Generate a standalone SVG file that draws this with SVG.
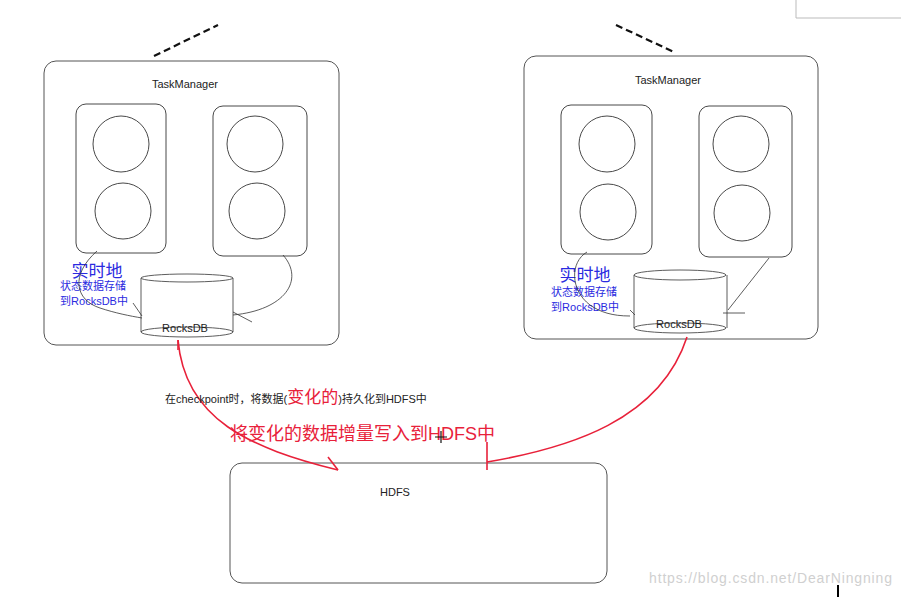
<svg xmlns="http://www.w3.org/2000/svg" width="901" height="597" viewBox="0 0 901 597">
<style>
.box{fill:none;stroke:#555;stroke-width:1}
.inner{fill:none;stroke:#333;stroke-width:0.9}
.circ{fill:none;stroke:#333;stroke-width:0.9}
.thin{fill:none;stroke:#333;stroke-width:0.8}
.dash{fill:none;stroke:#111;stroke-width:2.2;stroke-dasharray:7,4}
.red{fill:none;stroke:#e8213a;stroke-width:1.6}
.t{font-family:"Liberation Sans",Arial,"Noto Sans CJK SC",sans-serif;fill:#222}
.blue{font-family:"Liberation Sans",Arial,"Noto Sans CJK SC",sans-serif;fill:#2a2ae0}
.redt{font-family:"Liberation Sans",Arial,"Noto Sans CJK SC",sans-serif;fill:#e8213a}
</style>
<rect x="0" y="0" width="901" height="597" fill="#fff"/>
<path d="M796,-1 V18 H901" fill="none" stroke="#bbb" stroke-width="1"/>
<g id="tm-left">
<line class="dash" x1="154" y1="56" x2="218" y2="25"/>
<rect class="box" x="44" y="61" width="295" height="284" rx="12"/>
<text class="t" x="185" y="88" font-size="11" text-anchor="middle">TaskManager</text>
<rect class="inner" x="76" y="104" width="90" height="149" rx="10"/>
<circle class="circ" cx="121" cy="144" r="28"/>
<circle class="circ" cx="123" cy="211" r="28"/>
<rect class="inner" x="213" y="106" width="94" height="150" rx="10"/>
<circle class="circ" cx="255" cy="144" r="28"/>
<circle class="circ" cx="257" cy="211" r="28"/>
<g id="rocks-left">
<path class="thin" d="M141,278 V332 M233,278 V332"/>
<ellipse cx="187" cy="278" rx="46" ry="4" fill="#fff" stroke="#333" stroke-width="0.8"/>
<ellipse cx="187" cy="332" rx="46" ry="5" fill="none" stroke="#333" stroke-width="0.8"/>
<text class="t" x="185" y="332" font-size="11" text-anchor="middle">RocksDB</text>
</g>
<text class="blue" x="97" y="277" font-size="17" text-anchor="middle">实时地</text>
<text class="blue" x="93" y="290" font-size="11" text-anchor="middle">状态数据存储</text>
<text class="blue" x="94" y="305" font-size="11" text-anchor="middle">到RocksDB中</text>
</g>
<g id="tm-right">
<line class="dash" x1="616" y1="25" x2="674" y2="52"/>
<rect class="box" x="524" y="56" width="294" height="283" rx="12"/>
<text class="t" x="668" y="84" font-size="11" text-anchor="middle">TaskManager</text>
<rect class="inner" x="561" y="105" width="91" height="149" rx="10"/>
<circle class="circ" cx="607" cy="144" r="28"/>
<circle class="circ" cx="608" cy="212" r="28"/>
<rect class="inner" x="699" y="106" width="93" height="151" rx="10"/>
<circle class="circ" cx="741" cy="144" r="28"/>
<circle class="circ" cx="742" cy="213" r="28"/>
<g id="rocks-right">
<path class="thin" d="M634,275 V328 M727,275 V328"/>
<ellipse cx="680" cy="275" rx="46" ry="5" fill="#fff" stroke="#333" stroke-width="0.8"/>
<ellipse cx="680" cy="328" rx="46" ry="5" fill="none" stroke="#333" stroke-width="0.8"/>
<text class="t" x="679" y="328" font-size="11" text-anchor="middle">RocksDB</text>
</g>
<text class="blue" x="585" y="281" font-size="17" text-anchor="middle">实时地</text>
<text class="blue" x="584" y="296" font-size="11" text-anchor="middle">状态数据存储</text>
<text class="blue" x="585" y="311" font-size="11" text-anchor="middle">到RocksDB中</text>
</g>
<g id="hdfs">
<rect class="box" x="230" y="463" width="377" height="120" rx="12"/>
<text class="t" x="395" y="496" font-size="11" text-anchor="middle">HDFS</text>
</g>
<g id="connectors">
<path class="thin" d="M97,251 C70,275 75,300 100,308 C115,313 130,316 142,318"/>
<line class="thin" x1="133" y1="303" x2="142" y2="316"/>
<path class="thin" d="M283,255 C305,280 285,310 233,315"/>
<line class="thin" x1="233" y1="312" x2="252" y2="322"/>
<path class="thin" d="M587,252 C570,262 570,290 590,305 C600,312 612,316 630,316"/>
<line class="thin" x1="630" y1="310" x2="635" y2="315"/>
<line class="thin" x1="769" y1="258" x2="728" y2="310"/>
<line class="thin" x1="723" y1="313" x2="745" y2="313"/>
<path class="red" d="M178,340 C185,420 250,448 338,470"/>
<line class="red" x1="328" y1="457" x2="338" y2="470"/>
<path class="red" d="M687,337 C660,420 570,448 487,462"/>
<line class="red" x1="487" y1="442" x2="487" y2="470"/>
<line class="red" x1="178" y1="340" x2="178" y2="350"/>
</g>
<text class="t" x="165" y="403" font-size="11">在checkpoint时，将数据(<tspan class="redt" font-size="17">变化的</tspan>)持久化到HDFS中</text>
<text class="redt" x="230" y="440" font-size="18">将变化的数据增量写入到HDFS中</text>
<path d="M441,431 V443 M435,437 H447" stroke="#111" stroke-width="1.2" fill="none"/>
<text x="649" y="583" font-size="14" fill="#d0d0d0" font-family="'Liberation Sans',Arial,sans-serif" textLength="243">https://blog.csdn.net/DearNingning</text>
<line x1="838" y1="585" x2="838" y2="597" stroke="#000" stroke-width="2"/>
</svg>
